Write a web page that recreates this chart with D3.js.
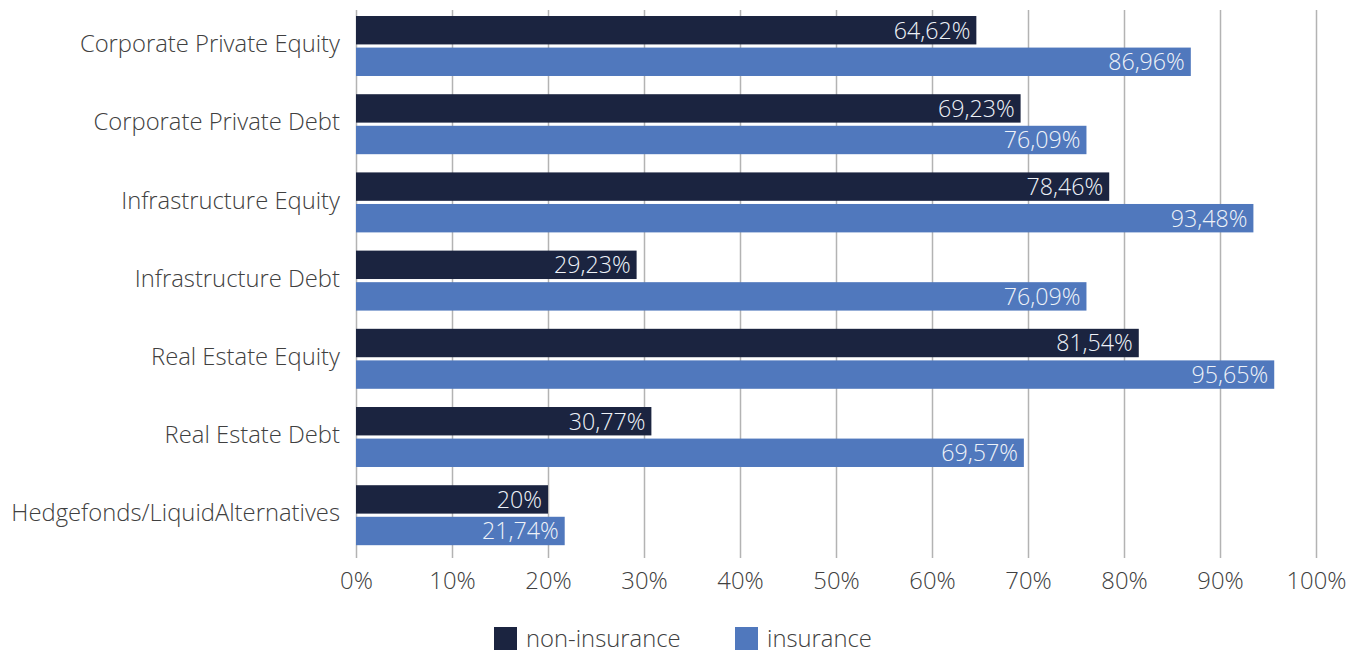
<!DOCTYPE html>
<html><head><meta charset="utf-8">
<script src="https://cdn.jsdelivr.net/npm/d3@7"></script>
<style>body{margin:0;background:#fff}svg{display:block}</style>
</head><body>
<svg id="c" width="1361" height="653"></svg>
<script>
const categories = ["Corporate Private Equity","Corporate Private Debt","Infrastructure Equity","Infrastructure Debt","Real Estate Equity","Real Estate Debt","Hedgefonds/LiquidAlternatives"];
const nonInsurance = [64.62, 69.23, 78.46, 29.23, 81.54, 30.77, 20];
const insurance = [86.96, 76.09, 93.48, 76.09, 95.65, 69.57, 21.74];
const seriesNames = ["non-insurance","insurance"];
const xTicks = [0,10,20,30,40,50,60,70,80,90,100];

const colors = ["#1b2440","#5078bd"];
const font = "'Open Sans', 'Noto Sans', sans-serif";
const fs = 23.8;
const svg = d3.select("#c");
const x = d3.scaleLinear().domain([0,100]).range([356,1316]);
const y = d3.scaleBand().domain(categories).range([6.9,554.3]).paddingInner(0.233).paddingOuter(0.1165);
const sub = d3.scaleBand().domain(seriesNames).range([0,y.bandwidth()]).paddingInner(0.1);

const fmt = v => (Number.isInteger(v) ? String(v) : v.toFixed(2).replace(".",",")) + "%";

// gridlines
svg.append("g").selectAll("line").data(xTicks).join("line")
  .attr("x1",d=>x(d)+0.5).attr("x2",d=>x(d)+0.5).attr("y1",10).attr("y2",558)
  .attr("stroke","#b3b3b3").attr("stroke-width",1.5);

// x axis labels
const xAxis = svg.append("g").attr("transform","translate(0,558)")
  .call(d3.axisBottom(x).tickValues(xTicks).tickFormat(d=>d+"%").tickSize(0).tickPadding(14));
xAxis.select(".domain").remove();
xAxis.selectAll("text").attr("font-family",font).attr("font-size",fs).attr("font-weight",300).attr("fill","#404040");

// y axis labels
const yAxis = svg.append("g").attr("transform","translate(356,0)")
  .call(d3.axisLeft(y).tickSize(0).tickPadding(16));
yAxis.select(".domain").remove();
yAxis.selectAll("text").attr("font-family",font).attr("font-size",fs).attr("font-weight",300).attr("fill","#404040").attr("dy","0.26em");

const data = [nonInsurance, insurance];
data.forEach((vals,si)=>{
  const g = svg.append("g");
  const rows = categories.map((c,i)=>({c,v:vals[i]}));
  g.selectAll("rect").data(rows).join("rect")
    .attr("x",x(0)).attr("y",d=>y(d.c)+sub(seriesNames[si]))
    .attr("width",d=>x(d.v)-x(0)).attr("height",sub.bandwidth())
    .attr("fill",colors[si]);
  g.selectAll("text").data(rows).join("text")
    .attr("x",d=>x(d.v)-6).attr("y",d=>y(d.c)+sub(seriesNames[si])+sub.bandwidth()/2)
    .attr("dy","0.36em").attr("text-anchor","end")
    .attr("font-family",font).attr("font-size",23.2).attr("font-weight",300).attr("fill","#eef2f8")
    .text(d=>fmt(d.v));
});

// legend
const legX = [494,735];
seriesNames.forEach((n,i)=>{
  svg.append("rect").attr("x",legX[i]).attr("y",627).attr("width",23).attr("height",23).attr("fill",colors[i]);
  svg.append("text").attr("x",legX[i]+32).attr("y",647).attr("font-family",font).attr("font-size",fs).attr("font-weight",300).attr("fill","#404040").text(n);
});
</script>
</body></html>
